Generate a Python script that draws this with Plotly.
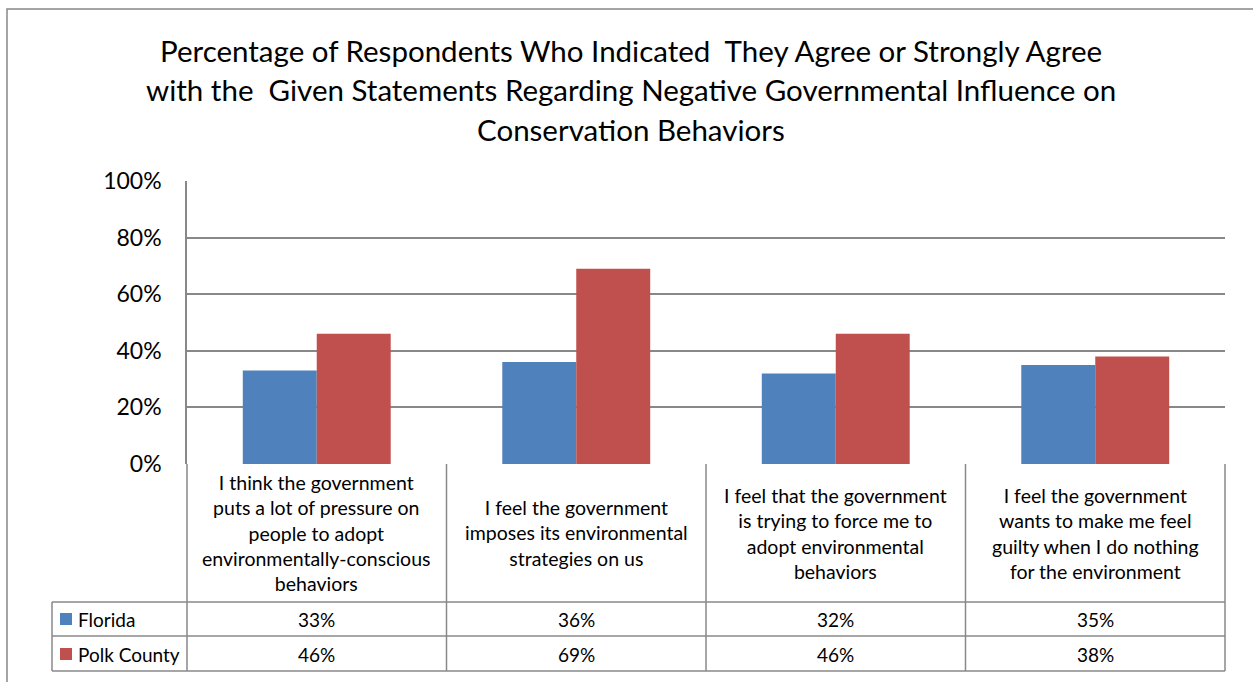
import plotly.graph_objects as go

# ---- data ----
categories = [
    "I think the government<br>puts a lot of pressure on<br>people to adopt<br>environmentally-conscious<br>behaviors",
    "I feel the government<br>imposes its environmental<br>strategies on us",
    "I feel that the government<br>is trying to force me to<br>adopt environmental<br>behaviors",
    "I feel the government<br>wants to make me feel<br>guilty when I do nothing<br>for the environment",
]
series_names = ["Florida", "Polk County"]
florida = [33, 36, 32, 35]
polk = [46, 69, 46, 38]
series_values = [florida, polk]
series_colors = ["#4F81BD", "#C0504D"]
y_ticks = [0, 20, 40, 60, 80, 100]
y_tick_labels = ["0%", "20%", "40%", "60%", "80%", "100%"]
title_lines = [
    "Percentage of Respondents Who Indicated\u00a0 They Agree or Strongly Agree",
    "with the\u00a0 Given Statements Regarding Negative Governmental Influence on",
    "Conservation Behaviors",
]

# ---- layout geometry (pixels) ----
W_FIG, H_FIG = 1253, 682
L, R, T, B = 187, 1225, 181, 464
PW, PH = R - L, B - T
FONT = "Lato"
GRID = "#888888"


def px2x(px):
    return (px - L) / PW


def py2y(py):
    return (B - py) / PH


xs = list(range(len(categories)))
fig = go.Figure()
for name, vals, col in zip(series_names, series_values, series_colors):
    fig.add_trace(go.Bar(x=xs, y=vals, name=name, marker=dict(color=col, line=dict(width=0)),
                         showlegend=False, hoverinfo="y+name"))

shapes = []
annotations = []

# outer chart border
shapes.append(dict(type="rect", xref="paper", yref="paper", x0=px2x(7), x1=px2x(1270),
                   y0=py2y(700), y1=py2y(9), line=dict(color=GRID, width=1.5), layer="below"))

# table rows
row_tops = [464, 602, 636, 671]
for py in row_tops[1:]:
    shapes.append(dict(type="line", xref="paper", yref="paper", x0=px2x(52), x1=1.0,
                       y0=py2y(py), y1=py2y(py), line=dict(color=GRID, width=1.5)))
# vertical column boundaries (category boundaries)
n = len(categories)
for i in range(n + 1):
    if 0 < i < n:
        shapes.append(dict(type="line", xref="x", yref="paper", x0=i - 0.5, x1=i - 0.5,
                           y0=py2y(464), y1=py2y(671), line=dict(color=GRID, width=1.5)))
    else:
        shapes.append(dict(type="line", xref="x domain", yref="paper", x0=i / n, x1=i / n,
                           y0=py2y(464), y1=py2y(671), line=dict(color=GRID, width=1.5)))
# legend column left edge
shapes.append(dict(type="line", xref="paper", yref="paper", x0=px2x(52), x1=px2x(52),
                   y0=py2y(602), y1=py2y(671), line=dict(color=GRID, width=1.5)))

# category labels
for i, c in enumerate(categories):
    annotations.append(dict(x=i, xref="x", y=py2y(533), yref="paper", text=c, showarrow=False,
                            xanchor="center", yanchor="middle", align="center",
                            font=dict(family=FONT, size=19.5, color="#000")))

# value rows + legend keys
row_centers = [619, 654]
for r, (name, vals, col) in enumerate(zip(series_names, series_values, series_colors)):
    cy = row_centers[r]
    for i, v in enumerate(vals):
        annotations.append(dict(x=i, xref="x", y=py2y(cy), yref="paper", text=f"{v}%",
                                showarrow=False, xanchor="center", yanchor="middle",
                                font=dict(family=FONT, size=19, color="#000")))
    shapes.append(dict(type="rect", xref="paper", yref="paper", x0=px2x(60), x1=px2x(72),
                       y0=py2y(cy + 6), y1=py2y(cy - 6), fillcolor=col, line=dict(width=0)))
    annotations.append(dict(x=px2x(76), xref="paper", y=py2y(cy), yref="paper", text=name,
                            showarrow=False, xanchor="left", yanchor="middle",
                            font=dict(family=FONT, size=19, color="#000")))

# title
for py, line in zip([50, 90, 129], title_lines):
    annotations.append(dict(x=px2x(631), xref="paper", y=py2y(py), yref="paper", text=line,
                            showarrow=False, xanchor="center", yanchor="middle",
                            font=dict(family=FONT, size=29.5, color="#000")))

fig.update_layout(
    width=W_FIG, height=H_FIG,
    margin=dict(l=L, r=W_FIG - R, t=T, b=H_FIG - B, pad=0),
    paper_bgcolor="white", plot_bgcolor="white",
    barmode="group", bargap=0.43, bargroupgap=0,
    shapes=shapes, annotations=annotations,
    font=dict(family=FONT, color="#000"),
    xaxis=dict(range=[-0.5, n - 0.5], showticklabels=False, showgrid=False, zeroline=False,
               showline=False, ticks="", fixedrange=True),
    yaxis=dict(range=[0, 100], tickmode="array", tickvals=y_ticks, ticktext=y_tick_labels,
               showgrid=True, gridcolor=GRID, gridwidth=1.5, zeroline=False, showline=True,
               linecolor=GRID, linewidth=1.5, ticks="", ticklabelstandoff=19,
               tickfont=dict(family=FONT, size=23, color="#000"), fixedrange=True),
)

fig.write_html("out.html", config={"displayModeBar": False})
